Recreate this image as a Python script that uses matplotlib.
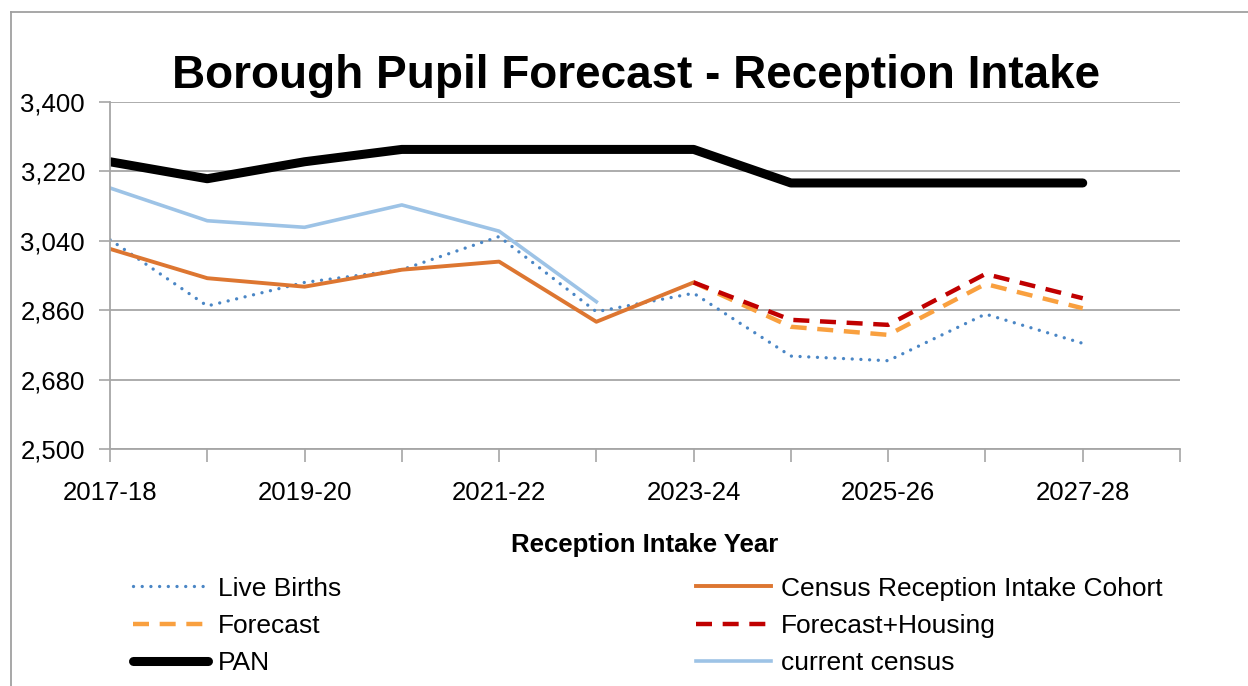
import numpy as np
import matplotlib
matplotlib.use("Agg")
import matplotlib.pyplot as plt
from matplotlib.lines import Line2D

plt.rcParams['font.family'] = ['Liberation Sans', 'DejaVu Sans']

years = ["2017-18", "2018-19", "2019-20", "2020-21", "2021-22", "2022-23",
         "2023-24", "2024-25", "2025-26", "2026-27", "2027-28"]
nan = np.nan
live_births = [3043, 2871, 2932, 2965, 3051, 2856, 2904, 2741, 2729, 2850, 2774]
census_cohort = [3019, 2943, 2921, 2965, 2986, 2830, 2932, nan, nan, nan, nan]
forecast = [nan, nan, nan, nan, nan, nan, 2932, 2817, 2796, 2928, 2865]
forecast_housing = [nan, nan, nan, nan, nan, nan, 2932, 2835, 2822, 2954, 2891]
pan = [3245, 3201, 3245, 3277, 3277, 3277, 3277, 3190, 3190, 3190, 3190]
current_census = [3177, 3092, 3075, 3133, 3065, 2882, nan, nan, nan, nan, nan]

y_ticks = [2500, 2680, 2860, 3040, 3220, 3400]

fig = plt.figure(figsize=(12.48, 6.86), dpi=100)
ax = fig.add_axes([110 / 1248, 1 - 449 / 686, 1070 / 1248, 347 / 686])

x = np.arange(len(years))
grid_c = "#a6a6a6"

ax.plot(x, live_births, color="#4a86c5", lw=2.4, dashes=(0.01, 2.6),
        dash_capstyle="round", label="Live Births")
ax.plot(x, census_cohort, color="#dd7631", lw=2.8, label="Census Reception Intake Cohort")
ax.plot(x, forecast, color="#f9a03f", lw=3.2, dashes=(3.6, 2.4), label="Forecast")
ax.plot(x, forecast_housing, color="#c00000", lw=3.2, dashes=(3.6, 2.4), label="Forecast+Housing")
ax.plot(x, pan, color="black", lw=6.5, solid_capstyle="round", label="PAN")
ax.plot(x, current_census, color="#9dc3e6", lw=2.6, label="current census")

ax.set_xlim(0, 11)
ax.set_ylim(2500, 3400)
ax.set_yticks(y_ticks)
ax.set_yticklabels([f"{v:,}" for v in y_ticks], fontsize=18.5)
ax.set_xticks(np.arange(12))
ax.set_xticklabels([years[i] if (i < len(years) and i % 2 == 0) else "" for i in range(12)],
                   fontsize=18.5)
ax.tick_params(axis="x", length=9, width=1.2, color=grid_c, pad=14)
ax.tick_params(axis="y", length=8, width=1.2, color=grid_c, pad=10)
ax.grid(axis="y", color=grid_c, lw=1.3)
ax.set_axisbelow(True)
for s in ["top", "right"]:
    ax.spines[s].set_visible(False)
for s in ["left", "bottom"]:
    ax.spines[s].set_color(grid_c)
    ax.spines[s].set_linewidth(1.3)

ax.set_xlabel("Reception Intake Year", fontsize=18.5, fontweight="bold", labelpad=20)

fig.text(636 / 1248, 1 - 76 / 686, "Borough Pupil Forecast - Reception Intake",
         ha="center", va="center", fontsize=33, fontweight="bold")

handles = ax.get_lines()
leg_kw = dict(loc="upper left", frameon=False, fontsize=19, handlelength=2.85,
              handletextpad=0.38, labelspacing=0.5, borderaxespad=0)
left_h = [handles[0], handles[2], handles[4]]
right_h = [handles[1], handles[3], handles[5]]
fig.legend(left_h, [h.get_label() for h in left_h],
           bbox_to_anchor=(122 / 1248, 1 - 566 / 686), **leg_kw)
fig.legend(right_h, [h.get_label() for h in right_h],
           bbox_to_anchor=(685 / 1248, 1 - 566 / 686), **leg_kw)

# outer chart border
fig.add_artist(Line2D([11 / 1248, 11 / 1248], [0, 1 - 12 / 686], color="#a0a0a0", lw=1.3))
fig.add_artist(Line2D([11 / 1248, 1], [1 - 12 / 686, 1 - 12 / 686], color="#a0a0a0", lw=1.3))

fig.savefig("out.png", dpi=100)
